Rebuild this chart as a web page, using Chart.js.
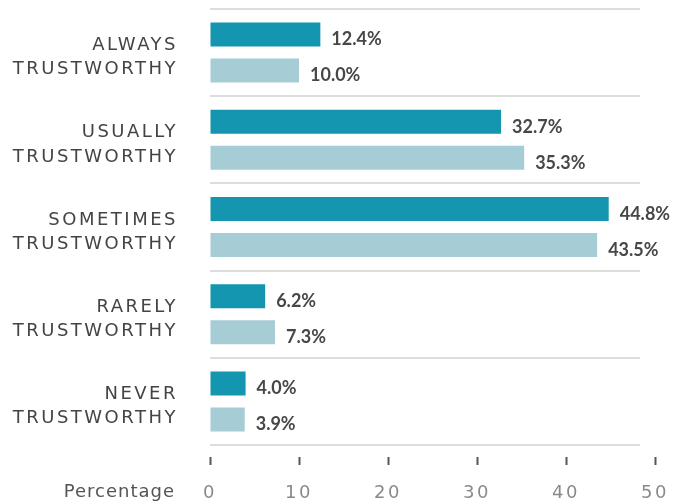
<!DOCTYPE html>
<html><head><meta charset="utf-8">
<script src="https://cdn.jsdelivr.net/npm/chart.js@4"></script>
<style>html,body{margin:0;padding:0;background:#fff}#wrap{width:679px;height:504px;position:relative}</style>
</head><body><div id="wrap"><canvas id="c"></canvas></div>
<script>
const categories = [['ALWAYS','TRUSTWORTHY'],['USUALLY','TRUSTWORTHY'],['SOMETIMES','TRUSTWORTHY'],['RARELY','TRUSTWORTHY'],['NEVER','TRUSTWORTHY']];
const seriesA = [12.4, 32.7, 44.8, 6.2, 4.0];
const seriesB = [10.0, 35.3, 43.5, 7.3, 3.9];
const xTicks = [0, 10, 20, 30, 40, 50];
const axisTitle = 'Percentage';

const FONT = "'DejaVu Sans', sans-serif";

const deco = {
  id: 'deco',
  beforeDraw(chart) { chart.ctx.letterSpacing = '2.5px'; },
  beforeDatasetsDraw(chart) {
    const {ctx, chartArea: a, scales: {y}} = chart;
    ctx.letterSpacing = '0px';
    ctx.save();
    ctx.strokeStyle = '#dddddd';
    ctx.lineWidth = 2;
    for (let i = 0; i <= categories.length; i++) {
      const py = Math.round(y.getPixelForValue(i - 0.5));
      ctx.beginPath();
      ctx.moveTo(a.left, py);
      ctx.lineTo(a.right - 15, py);
      ctx.stroke();
    }
    ctx.restore();
  },
  afterDatasetsDraw(chart) {
    const {ctx} = chart;
    ctx.save();
    ctx.font = "bold 18px Lato, sans-serif";
    ctx.fillStyle = '#474747';
    ctx.textAlign = 'left';
    ctx.textBaseline = 'middle';
    chart.data.datasets.forEach((ds, di) => {
      const meta = chart.getDatasetMeta(di);
      meta.data.forEach((bar, i) => {
        ctx.fillText(ds.data[i].toFixed(1) + '%', bar.x + 11, bar.y + 5);
      });
    });
    ctx.restore();
    ctx.letterSpacing = '1px';
  },
  afterDraw(chart) {
    const {ctx, scales: {x, y}} = chart;
    ctx.save();
    ctx.font = "18px " + FONT;
    ctx.fillStyle = '#555555';
    ctx.textAlign = 'right';
    ctx.textBaseline = 'top';
    ctx.fillText(axisTitle, y.right - 35, x.top + 19 + 19);
    ctx.restore();
    ctx.letterSpacing = '0px';
  }
};

new Chart(document.getElementById('c'), {
  type: 'bar',
  data: {
    labels: categories,
    datasets: [
      {data: seriesA, backgroundColor: '#1596b0', borderWidth: 0, categoryPercentage: 0.826, barPercentage: 0.667},
      {data: seriesB, backgroundColor: '#a6ccd6', borderWidth: 0, categoryPercentage: 0.826, barPercentage: 0.667}
    ]
  },
  options: {
    indexAxis: 'y',
    responsive: true,
    maintainAspectRatio: false,
    animation: false,
    devicePixelRatio: 1,
    layout: {padding: {top: 9, right: 24, left: 0, bottom: 0}},
    plugins: {legend: {display: false}, tooltip: {enabled: false}},
    scales: {
      y: {
        type: 'category',
        offset: true,
        grid: {display: false, drawTicks: false},
        border: {display: false},
        ticks: {color: '#444444', padding: 32, labelOffset: 5, font: {family: FONT, size: 18, lineHeight: 1.35}},
        afterFit(s) { s.width = 210; s.paddingTop = 0; s.paddingBottom = 0; }
      },
      x: {
        type: 'linear',
        position: 'bottom',
        min: 0, max: 50,
        z: 1,
        afterBuildTicks(s) { s.ticks = xTicks.map(v => ({value: v})); },
        grid: {drawOnChartArea: false, drawTicks: true, tickLength: 20, tickColor: '#555555', tickWidth: 2,
               tickBorderDash: [8, 200], tickBorderDashOffset: 196, color: '#555555'},
        border: {display: false},
        ticks: {color: '#8a8a8a', padding: 18, font: {family: FONT, size: 18}, maxRotation: 0},
        afterFit(s) { s.height = 59; s.paddingLeft = 0; s.paddingRight = 0; }
      }
    }
  },
  plugins: [deco]
});
</script>
</body></html>
